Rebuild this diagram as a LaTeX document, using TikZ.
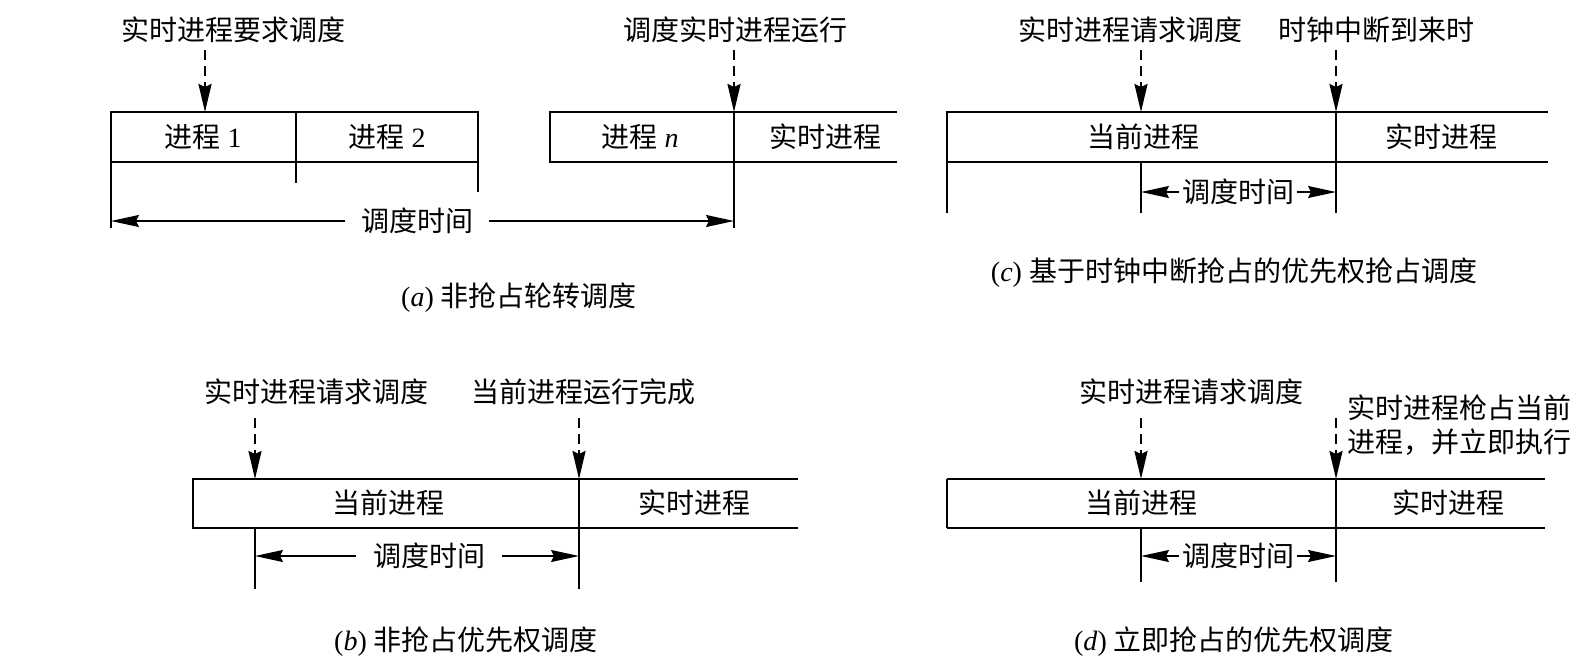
\documentclass[tikz,border=0pt]{standalone}
\usepackage{fontspec}
\setmainfont{Liberation Serif}
\newfontfamily\cjk{Noto Sans CJK SC}
\newcommand{\zh}[1]{{\cjk #1}}
\usetikzlibrary{arrows.meta,positioning}

\begin{document}
\begin{tikzpicture}[
  x=0.5pt,y=-0.5pt,
  line width=0.8pt,
  font=\fontsize{14}{17}\selectfont,
  txt/.style={inner sep=1pt},
  gaptxt/.style={inner ysep=1pt,inner xsep=7.5pt},
  dasharrow/.style={line width=1.1pt,dash pattern=on 5pt off 3pt,-{Stealth[length=14pt,width=6.5pt,inset=1.5pt]}},
  timearrow/.style={-{Stealth[length=14pt,width=6pt,inset=1.5pt]}},
]
  \useasboundingbox (0,0) rectangle (1588,670);

  % (a)
  \node[txt] (a-req) at (233,30) {\zh{实时进程要求调度}};
  \node[txt] (a-run) at (735,30) {\zh{调度实时进程运行}};
  \coordinate (a-s1) at (205,50);  \coordinate (a-t1) at (205,112);
  \coordinate (a-s2) at (734,50);  \coordinate (a-t2) at (734,112);
  \draw[dasharrow] (a-s1) -- (a-t1);
  \draw[dasharrow] (a-s2) -- (a-t2);
  \draw (111,228) -- (111,112) -- (478,112) -- (478,192);
  \draw (111,162) -- (478,162);
  \draw (296,112) -- (296,183);
  \draw (897,112) -- (550,112) -- (550,162) -- (897,162);
  \draw (a-t2) -- (734,228);
  \node[txt] (a-p1) at (203,137) {\zh{进程} 1};
  \node[txt] (a-p2) at (387,137) {\zh{进程} 2};
  \node[txt] (a-pn) at (640,137) {\zh{进程} \textit{n}};
  \node[txt] (a-rt) at (825,137) {\zh{实时进程}};
  \node[gaptxt] (a-dt) at (417,221) {\zh{调度时间}};
  \coordinate (a-d1) at (111,221);  \coordinate (a-d2) at (734,221);
  \draw[timearrow] (a-dt) -- (a-d1);
  \draw[timearrow] (a-dt) -- (a-d2);
  \node[txt] (a-cap) at (519,298) {(\textit{a}) \zh{非抢占轮转调度}};

  % (c)
  \node[txt] (c-req) at (1130,30) {\zh{实时进程请求调度}};
  \node[txt] (c-clk) at (1376,30) {\zh{时钟中断到来时}};
  \coordinate (c-s1) at (1141,50);  \coordinate (c-t1) at (1141,112);
  \coordinate (c-s2) at (1336,50);  \coordinate (c-t2) at (1336,112);
  \draw[dasharrow] (c-s1) -- (c-t1);
  \draw[dasharrow] (c-s2) -- (c-t2);
  \draw (947,213) -- (947,112) -- (1548,112);
  \draw (947,162) -- (1548,162);
  \draw (c-t2) -- (1336,213);
  \draw (1141,162) -- (1141,213);
  \node[txt] (c-cur) at (1143,137) {\zh{当前进程}};
  \node[txt] (c-rt) at (1441,137) {\zh{实时进程}};
  \node[txt] (c-dt) at (1238,192) {\zh{调度时间}};
  \coordinate (c-d1) at (1141,192);  \coordinate (c-d2) at (1336,192);
  \draw[timearrow] (c-dt) -- (c-d1);
  \draw[timearrow] (c-dt) -- (c-d2);
  \node[txt] (c-cap) at (1234,273) {(\textit{c}) \zh{基于时钟中断抢占的优先权抢占调度}};

  % (b)
  \node[txt] (b-req) at (316,392) {\zh{实时进程请求调度}};
  \node[txt] (b-end) at (583,392) {\zh{当前进程运行完成}};
  \coordinate (b-s1) at (255,418);  \coordinate (b-t1) at (255,479);
  \coordinate (b-s2) at (579,418);  \coordinate (b-t2) at (579,479);
  \draw[dasharrow] (b-s1) -- (b-t1);
  \draw[dasharrow] (b-s2) -- (b-t2);
  \draw (798,479) -- (193,479) -- (193,528) -- (798,528);
  \draw (b-t2) -- (579,589);
  \draw (255,528) -- (255,589);
  \node[txt] (b-cur) at (388,503) {\zh{当前进程}};
  \node[txt] (b-rt) at (694,503) {\zh{实时进程}};
  \node[gaptxt,inner xsep=8pt] (b-dt) at (429,556) {\zh{调度时间}};
  \coordinate (b-d1) at (255,556);  \coordinate (b-d2) at (579,556);
  \draw[timearrow] (b-dt) -- (b-d1);
  \draw[timearrow] (b-dt) -- (b-d2);
  \node[txt] (b-cap) at (466,642) {(\textit{b}) \zh{非抢占优先权调度}};

  % (d)
  \node[txt] (d-req) at (1191,392) {\zh{实时进程请求调度}};
  \node[txt,anchor=west,align=left] (d-pre) at (1345,425) {\zh{实时进程枪占当前}\\\zh{进程，并立即执行}};
  \coordinate (d-s1) at (1141,418);  \coordinate (d-t1) at (1141,479);
  \coordinate (d-s2) at (1336,418);  \coordinate (d-t2) at (1336,479);
  \draw[dasharrow] (d-s1) -- (d-t1);
  \draw[dasharrow] (d-s2) -- (d-t2);
  \draw (947,479) -- (1545,479);
  \draw (947,528) -- (1545,528);
  \draw (947,479) -- (947,528);
  \draw (d-t2) -- (1336,582);
  \draw (1141,528) -- (1141,582);
  \node[txt] (d-cur) at (1141,503) {\zh{当前进程}};
  \node[txt] (d-rt) at (1448,503) {\zh{实时进程}};
  \node[txt] (d-dt) at (1238,556) {\zh{调度时间}};
  \coordinate (d-d1) at (1141,556);  \coordinate (d-d2) at (1336,556);
  \draw[timearrow] (d-dt) -- (d-d1);
  \draw[timearrow] (d-dt) -- (d-d2);
  \node[txt] (d-cap) at (1234,642) {(\textit{d}) \zh{立即抢占的优先权调度}};
\end{tikzpicture}
\end{document}
